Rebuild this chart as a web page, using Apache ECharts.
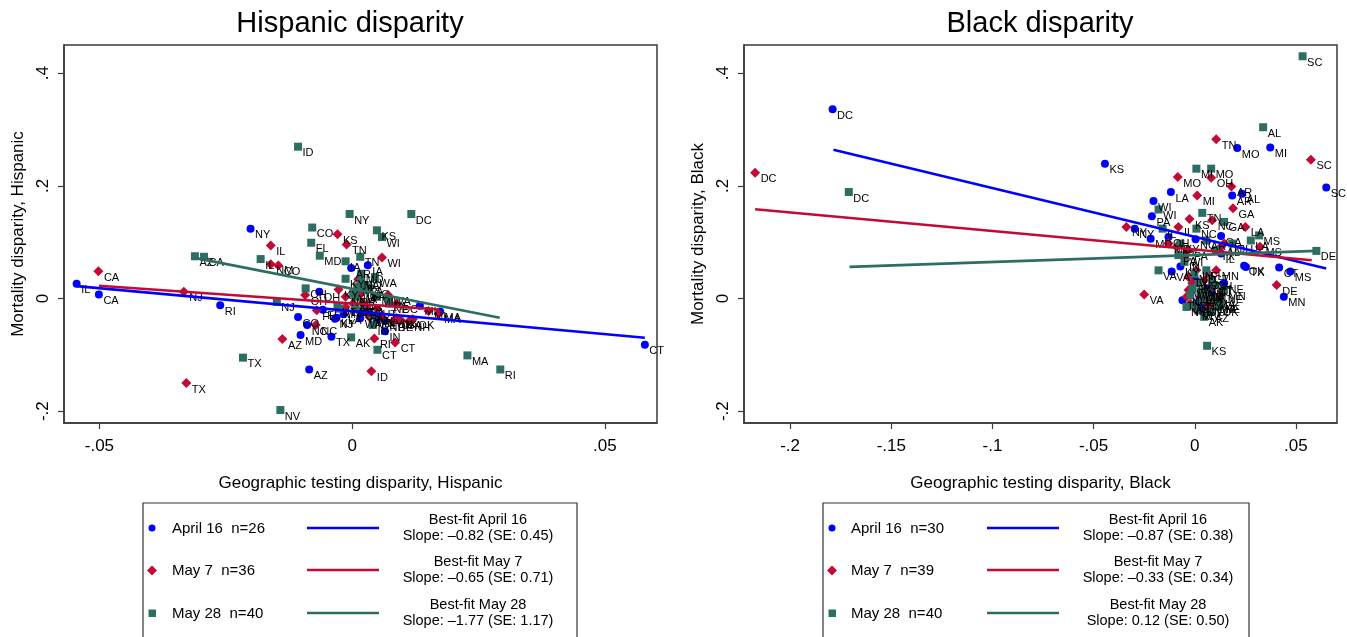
<!DOCTYPE html>
<html>
<head>
<meta charset="utf-8">
<script src="https://cdn.jsdelivr.net/npm/echarts@6/dist/echarts.min.js"></script>
<style>
html,body{margin:0;padding:0;background:#fff;}
#c{width:1347px;height:637px;}
</style>
</head>
<body>
<div id="c"></div>
<script>
// ---------- DATA: Hispanic ----------
const hispApr16 = [
  [-0.0545,0.026,'IL'],[-0.0501,0.007,'CA'],[-0.0261,-0.012,'RI'],[-0.0201,0.124,'NY'],
  [-0.0107,-0.033,'CO'],[-0.0089,-0.047,'NC'],[-0.0102,-0.065,'MD'],[-0.0085,-0.126,'AZ'],
  [-0.0041,-0.068,'TX'],[-0.0058,-0.020,'FL'],[-0.0034,-0.036,'NJ'],[-0.0031,-0.034,'KY'],
  [-0.0065,0.012,'OH'],[-0.0002,0.054,'AR'],[0.0031,0.059,'IA'],[0.0065,-0.058,'IN'],
  [0.0134,-0.013,'MI'],[0.0174,-0.023,'MA'],[0.0579,-0.082,'CT'],[0.0016,-0.035,'WA'],
  [-0.0017,-0.028,'LA'],[0.0006,-0.015,'UT'],[0.0049,-0.038,'DE'],[0.0065,-0.040,'NH'],
  [0.0088,-0.038,'OK'],[0.0026,-0.024,'PA']
];
const hispMay7 = [
  [-0.0502,0.0485,'CA'],[-0.0333,0.0118,'NJ'],[-0.0328,-0.150,'TX'],[-0.0161,0.094,'IL'],
  [-0.0161,0.061,'NM'],[-0.0146,0.0585,'CO'],[-0.0138,-0.072,'AZ'],[-0.0093,0.006,'OH'],
  [-0.0070,-0.021,'FL'],[-0.0072,-0.047,'NC'],[-0.0029,0.114,'KS'],[-0.0011,0.096,'TN'],
  [-0.0027,0.016,'KY'],[0.0059,0.073,'WI'],[0.0012,0.034,'MO'],[0.0038,-0.129,'ID'],
  [0.0044,-0.071,'RI'],[0.0085,-0.078,'CT'],[0.0171,-0.027,'MA'],[0.0151,-0.022,'MI'],
  [0.0071,0.006,'WA'],[0.0088,-0.009,'DC'],[0.0022,-0.009,'PA'],[0.0026,-0.015,'VA'],
  [0.0049,-0.018,'UT'],[0.0059,-0.033,'NV'],[0.0034,-0.033,'MD'],[0.0096,-0.038,'GA'],
  [0.0112,-0.041,'NH'],[0.0120,-0.037,'OK'],[0.0088,-0.035,'IN'],[0.0080,-0.041,'DE'],
  [-0.0013,-0.015,'LA'],[0.0002,-0.009,'AR'],[0.0018,0.009,'IA'],[-0.0013,0.003,'NE']
];
const hispMay28 = [
  [-0.0107,0.2695,'ID'],[-0.0005,0.150,'NY'],[0.0117,0.150,'DC'],[-0.0079,0.126,'CO'],
  [0.0049,0.121,'KS'],[0.0059,0.109,'WI'],[-0.0081,0.099,'FL'],[-0.0064,0.076,'MD'],
  [0.0016,0.074,'TN'],[-0.0013,0.066,'IA'],[-0.0311,0.075,'AZ'],[-0.0293,0.074,'CA'],
  [-0.0181,0.070,'IL'],[0.0045,0.038,'WA'],[-0.0013,0.035,'KY'],[0.0018,0.033,'VA'],
  [0.0018,0.044,'MO'],[-0.0092,0.018,'OH'],[-0.0149,-0.006,'NJ'],[-0.0216,-0.105,'TX'],
  [-0.0142,-0.198,'NV'],[-0.0002,-0.069,'AK'],[0.0050,-0.091,'CT'],[0.0228,-0.101,'MA'],
  [0.0293,-0.126,'RI'],[0.0041,-0.047,'IN'],[0.0010,0.021,'NC'],[0.0026,0.015,'GA'],
  [0.0026,0.024,'LA'],[0.0049,0.003,'MI'],[0.0073,-0.003,'PA'],[-0.0029,-0.015,'UT'],
  [0.0006,-0.015,'DE'],[0.0018,-0.021,'OK'],[0.0041,-0.030,'NH'],[0.0002,0.009,'NM'],
  [0.0006,0.003,'OR'],[0.0073,-0.009,'NE'],[-0.0025,-0.018,'MN'],[0.0034,0.018,'SC']
];
const hispFitApr16 = [[-0.0545,0.0219],[0.0579,-0.0697]];
const hispFitMay7  = [[-0.0501,0.0225],[0.0171,-0.0195]];
const hispFitMay28 = [[-0.0311,0.0721],[0.0292,-0.0343]];

// ---------- DATA: Black ----------
const blackApr16 = [
  [-0.179,0.336,'DC'],[-0.0444,0.239,'KS'],[-0.0118,0.189,'LA'],[-0.0204,0.173,'WI'],
  [-0.0212,0.146,'PA'],[-0.0297,0.124,'NY'],[-0.0218,0.106,'MD'],[-0.0130,0.109,'OH'],
  [-0.0071,0.057,'KY'],[-0.0114,0.048,'VA'],[0.0004,0.105,'NC'],[0.0130,0.111,'GA'],
  [0.0185,0.183,'AR'],[0.0234,0.186,'AL'],[0.0210,0.267,'MO'],[0.0373,0.268,'MI'],
  [0.0650,0.197,'SC'],[0.0244,0.058,'OK'],[0.0253,0.056,'TX'],[0.0417,0.055,'CT'],
  [0.0472,0.048,'MS'],[0.0440,0.003,'MN'],[0.0130,0.080,'IL'],[-0.0061,-0.003,'TN'],
  [0.0004,0.0325,'WV'],[0.0008,-0.009,'NJ'],[0.0067,0.018,'IN'],[0.0047,-0.015,'DE'],
  [0.0086,0.009,'FL'],[0.0145,0.027,'NE']
];
const blackMay7 = [
  [-0.2173,0.2234,'DC'],[-0.0250,0.007,'VA'],[-0.0338,0.127,'NY'],[0.0106,0.2825,'TN'],
  [0.0574,0.2464,'SC'],[-0.0084,0.2157,'MO'],[0.0081,0.2145,'OH'],[0.0181,0.199,'AR'],
  [0.0012,0.183,'MI'],[0.0189,0.160,'GA'],[-0.0026,0.141,'KS'],[-0.0081,0.127,'IL'],
  [0.0250,0.127,'LA'],[0.0086,0.139,'NC'],[-0.0130,0.0975,'MD'],[0.0405,0.024,'DE'],
  [0.0322,0.092,'MS'],[-0.0090,0.092,'KY'],[-0.0031,0.086,'PA'],[-0.0051,0.074,'WI'],
  [0.0106,0.050,'MN'],[0.0008,0.050,'IN'],[0.0067,0.044,'CT'],[-0.0031,0.038,'TX'],
  [-0.0012,0.027,'FL'],[0.0047,0.0325,'CO'],[0.0086,0.021,'NJ'],[-0.0031,0.015,'WV'],
  [0.0116,-0.003,'OK'],[0.0028,0.003,'IA'],[-0.0022,-0.009,'AZ'],[0.0067,-0.012,'NV'],
  [0.0008,-0.021,'RI'],[0.0096,-0.009,'MA'],[0.0136,0.009,'NE'],[0.0130,0.092,'AL'],
  [0.0145,0.0975,'UT'],[-0.0041,0.003,'NH'],[0.0037,0.012,'WA']
];
const blackMay28 = [
  [0.0533,0.430,'SC'],[0.0338,0.304,'AL'],[-0.171,0.189,'DC'],[0.0008,0.2305,'MI'],
  [0.0081,0.2305,'MO'],[-0.0179,0.158,'WI'],[0.0037,0.152,'TN'],[-0.0179,0.050,'VA'],
  [0.0145,0.136,'GA'],[0.0277,0.103,'LA'],[0.0318,0.112,'MS'],[0.0601,0.0845,'DE'],
  [0.0061,-0.084,'KS'],[0.0008,0.124,'NC'],[-0.0159,0.124,'IL'],[-0.0071,0.0975,'KY'],
  [-0.0081,0.077,'PA'],[0.0057,0.103,'AR'],[0.0185,0.0975,'OH'],[0.0106,0.0857,'TX'],
  [-0.0051,0.065,'IN'],[-0.0002,0.044,'MD'],[0.0057,0.050,'FL'],[0.0018,0.027,'NJ'],
  [0.0096,0.024,'CT'],[0.0145,0.015,'MN'],[-0.0022,0.006,'CO'],[0.0037,-0.003,'NY'],
  [0.0096,0.000,'MA'],[-0.0041,-0.015,'NV'],[0.0018,-0.021,'WV'],[0.0077,-0.024,'AZ'],
  [0.0116,-0.015,'OK'],[0.0047,-0.0325,'AK'],[-0.0002,-0.012,'RI'],[0.0126,-0.009,'NE'],
  [0.0067,0.009,'IA'],[-0.0012,0.018,'WA'],[0.0028,0.012,'UT'],[0.0086,0.0325,'NH']
];
const blackFitApr16 = [[-0.1786,0.2642],[0.0650,0.0532]];
const blackFitMay7  = [[-0.2173,0.1584],[0.0578,0.0680]];
const blackFitMay28 = [[-0.1706,0.0561],[0.0601,0.0845]];

// ---------- TICKS / TEXT ----------
const yTicks = [-0.2, 0, 0.2, 0.4];
const yTickLabels = ['-.2', '0', '.2', '.4'];
const hispXTicks = [-0.05, 0, 0.05];
const hispXTickLabels = ['-.05', '0', '.05'];
const blackXTicks = [-0.2, -0.15, -0.1, -0.05, 0, 0.05];
const blackXTickLabels = ['-.2', '-.15', '-.1', '-.05', '0', '.05'];

const legendHisp = [
  ['April 16  n=26', 'Best-fit April 16', 'Slope: \u20130.82 (SE: 0.45)'],
  ['May 7  n=36', 'Best-fit May 7', 'Slope: \u20130.65 (SE: 0.71)'],
  ['May 28  n=40', 'Best-fit May 28', 'Slope: \u20131.77 (SE: 1.17)']
];
const legendBlack = [
  ['April 16  n=30', 'Best-fit April 16', 'Slope: \u20130.87 (SE: 0.38)'],
  ['May 7  n=39', 'Best-fit May 7', 'Slope: \u20130.33 (SE: 0.34)'],
  ['May 28  n=40', 'Best-fit May 28', 'Slope: 0.12 (SE: 0.50)']
];

// ---------- STYLE ----------
const FONT = '"Liberation Sans", Arial, Helvetica, sans-serif';
const C_BLUE = '#0000ff', C_RED = '#c20a35', C_GREEN = '#2e6e62';
const DIAMOND = 'path://M0,-1L1,0L0,1L-1,0Z';

function lbl(ticks, labels) {
  return function (v) {
    for (let i = 0; i < ticks.length; i++) if (Math.abs(v - ticks[i]) < 1e-9) return labels[i];
    return '';
  };
}

function xAxisDef(idx, min, max, ticks, labels, name) {
  return {
    type: 'value', gridIndex: idx, min: min, max: max,
    name: name, nameLocation: 'middle', nameGap: 52,
    nameTextStyle: { fontFamily: FONT, fontSize: 17, color: '#000' },
    axisLine: { show: true, onZero: false, lineStyle: { color: '#3a3a3a', width: 1.5 } },
    axisTick: { show: true, length: 6, customValues: ticks, lineStyle: { color: '#3a3a3a', width: 1.2 } },
    axisLabel: { show: true, customValues: ticks, formatter: lbl(ticks, labels), fontFamily: FONT, fontSize: 17, color: '#000', margin: 15 },
    splitLine: { show: false }
  };
}
function yAxisDef(idx, name) {
  return {
    type: 'value', gridIndex: idx, min: -0.221, max: 0.450,
    name: name, nameLocation: 'middle', nameGap: 37, nameRotate: 90,
    nameTextStyle: { fontFamily: FONT, fontSize: 17, color: '#000' },
    axisLine: { show: true, onZero: false, lineStyle: { color: '#3a3a3a', width: 1.5 } },
    axisTick: { show: true, length: 6, customValues: yTicks, lineStyle: { color: '#3a3a3a', width: 1.2 } },
    axisLabel: { show: true, customValues: yTicks, rotate: 90, formatter: lbl(yTicks, yTickLabels), fontFamily: FONT, fontSize: 17, color: '#000', margin: 12 },
    splitLine: { show: false }
  };
}

function scatterS(idx, data, color, symbol, size) {
  return {
    type: 'scatter', xAxisIndex: idx, yAxisIndex: idx, data: data,
    symbol: symbol, symbolSize: size,
    itemStyle: { color: color, opacity: 1 },
    label: {
      show: true, formatter: p => p.value[2], position: [size + 0.5, size / 2 + 1],
      fontFamily: FONT, fontSize: 11, color: '#000'
    },
    labelLayout: { hideOverlap: false },
    emphasis: { disabled: true }, silent: true, z: 3
  };
}
function lineS(idx, data, color) {
  return {
    type: 'line', xAxisIndex: idx, yAxisIndex: idx, data: data,
    symbol: 'none', lineStyle: { color: color, width: 2.6 },
    emphasis: { disabled: true }, silent: true, z: 4
  };
}

function legendGraphics(boxLeft, boxRight, markerX, textX, lineX1, lineX2, centerX, rows) {
  const g = [];
  g.push({ type: 'rect', shape: { x: boxLeft, y: 503, width: boxRight - boxLeft, height: 150 },
           style: { fill: '#fff', stroke: '#333', lineWidth: 1.2 }, z: 10 });
  const ys = [529, 571, 614];
  const colors = [C_BLUE, C_RED, C_GREEN];
  ys.forEach((y, i) => {
    if (i === 0) g.push({ type: 'circle', shape: { cx: markerX, cy: y - 1, r: 3.5 }, style: { fill: colors[i] }, z: 11 });
    if (i === 1) g.push({ type: 'polygon', shape: { points: [[markerX, y - 5.5], [markerX + 5, y - 0.5], [markerX, y + 4.5], [markerX - 5, y - 0.5]] }, style: { fill: colors[i] }, z: 11 });
    if (i === 2) g.push({ type: 'rect', shape: { x: markerX - 3.5, y: y - 4.5, width: 7.5, height: 7.5 }, style: { fill: colors[i] }, z: 11 });
    g.push({ type: 'text', x: textX, y: y, style: { text: rows[i][0], fontFamily: FONT, fontSize: 15, fill: '#000', verticalAlign: 'middle', textAlign: 'left' }, z: 11 });
    g.push({ type: 'line', shape: { x1: lineX1, y1: y - 1, x2: lineX2, y2: y - 1 }, style: { stroke: colors[i], lineWidth: 2.6 }, z: 11 });
    g.push({ type: 'text', x: centerX, y: y - 1, style: { text: rows[i][1] + '\n' + rows[i][2], fontFamily: FONT, fontSize: 14.5, lineHeight: 15.5, fill: '#000', verticalAlign: 'middle', textAlign: 'center', align: 'center' }, z: 11 });
  });
  return g;
}

const chart = echarts.init(document.getElementById('c'), null, { renderer: 'canvas' });
const graphics = [
  { type: 'text', x: 350, y: 24, style: { text: 'Hispanic disparity', fontFamily: FONT, fontSize: 29, fill: '#000', textAlign: 'center', verticalAlign: 'middle' } },
  { type: 'text', x: 1040, y: 24, style: { text: 'Black disparity', fontFamily: FONT, fontSize: 29, fill: '#000', textAlign: 'center', verticalAlign: 'middle' } }
].concat(
  legendGraphics(143, 577, 152, 172, 307, 379, 478, legendHisp),
  legendGraphics(823, 1249, 832, 851, 987, 1059, 1158, legendBlack)
);

chart.setOption({
  animation: false,
  backgroundColor: '#fff',
  grid: [
    { left: 64, top: 45, width: 593, height: 378, show: true, borderColor: '#3a3a3a', borderWidth: 1.5, backgroundColor: '#fff', containLabel: false },
    { left: 744, top: 45, width: 593, height: 378, show: true, borderColor: '#3a3a3a', borderWidth: 1.5, backgroundColor: '#fff', containLabel: false }
  ],
  xAxis: [
    xAxisDef(0, -0.057, 0.0603, hispXTicks, hispXTickLabels, 'Geographic testing disparity, Hispanic'),
    xAxisDef(1, -0.2228, 0.0703, blackXTicks, blackXTickLabels, 'Geographic testing disparity, Black')
  ],
  yAxis: [
    yAxisDef(0, 'Mortality disparity, Hispanic'),
    yAxisDef(1, 'Mortality disparity, Black')
  ],
  series: [
    scatterS(0, hispApr16, C_BLUE, 'circle', 8),
    scatterS(0, hispMay7, C_RED, DIAMOND, 10),
    scatterS(0, hispMay28, C_GREEN, 'rect', 8),
    lineS(0, hispFitApr16, C_BLUE),
    lineS(0, hispFitMay7, C_RED),
    lineS(0, hispFitMay28, C_GREEN),
    scatterS(1, blackApr16, C_BLUE, 'circle', 8),
    scatterS(1, blackMay7, C_RED, DIAMOND, 10),
    scatterS(1, blackMay28, C_GREEN, 'rect', 8),
    lineS(1, blackFitApr16, C_BLUE),
    lineS(1, blackFitMay7, C_RED),
    lineS(1, blackFitMay28, C_GREEN)
  ],
  graphic: graphics
});
</script>
</body>
</html>
